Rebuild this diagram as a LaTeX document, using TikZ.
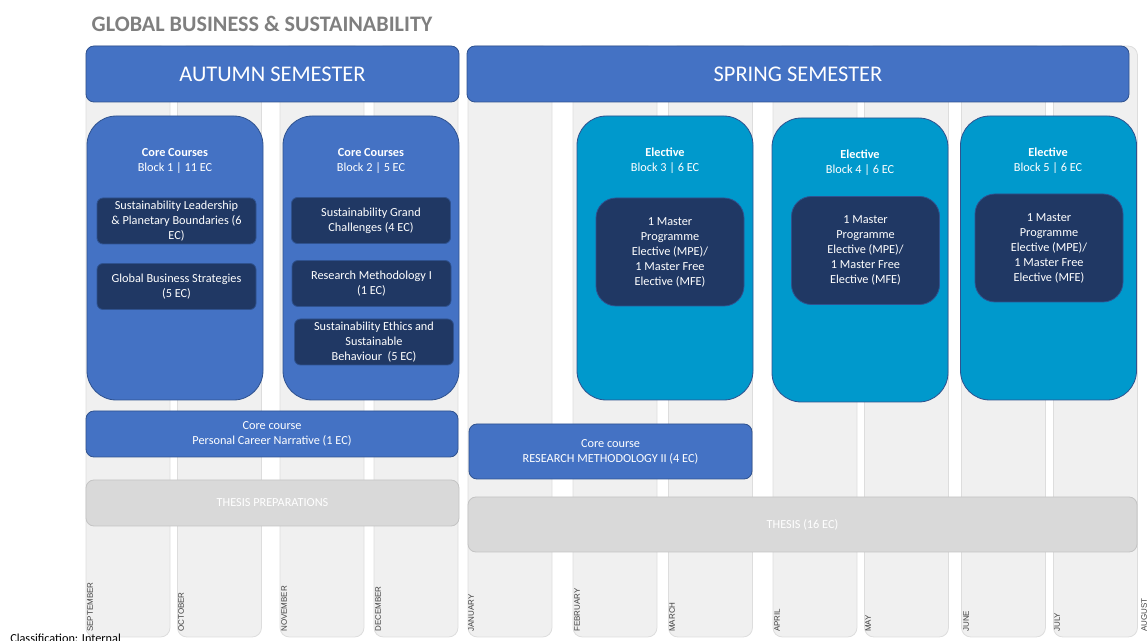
\documentclass[tikz,border=0pt]{standalone}
\usepackage{fontspec}
\setmainfont{Carlito}
\newfontfamily\monthfont{Liberation Sans}
\usetikzlibrary{positioning}
\definecolor{hdrblue}{HTML}{4472C4}
\definecolor{hdredge}{HTML}{2F528F}
\definecolor{elecblue}{HTML}{0099CC}
\definecolor{navyblue}{HTML}{203864}
\definecolor{thesisgray}{HTML}{D9D9D9}
\definecolor{thesisedge}{HTML}{C4C4C4}
\definecolor{colgray}{HTML}{F0F0F0}
\definecolor{coledge}{HTML}{DDDDDD}
\definecolor{titlegray}{HTML}{7F7F7F}

\begin{document}
\begin{tikzpicture}[x=0.75pt, y=-0.75pt,
    month/.style={draw=coledge, fill=colgray, line width=0.6pt, rounded corners=7pt,
        minimum width=63pt, minimum height=443.25pt, inner sep=0pt},
    monthlbl/.style={rotate=90, anchor=north west, inner sep=0pt, text=black!75,
        font=\monthfont\fontsize{6}{7}\selectfont},
    semester/.style={draw=hdredge, fill=hdrblue, line width=0.6pt, rounded corners=6pt,
        minimum height=42pt, text=white, font=\fontsize{16.8}{19}\selectfont},
    coreblock/.style={draw=hdredge, fill=hdrblue, line width=0.6pt, rounded corners=22pt,
        minimum width=132pt, minimum height=213pt},
    elecblock/.style={coreblock, fill=elecblue},
    blocktitle/.style={text=white, align=center, font=\fontsize{9.2}{11.25}\selectfont},
    course/.style={draw=hdredge, fill=navyblue, line width=0.6pt, rounded corners=4.5pt,
        minimum width=119.25pt, minimum height=34.5pt, inner sep=1pt, text=white,
        align=center, font=\fontsize{9.2}{11.25}\selectfont},
    elective/.style={course, rounded corners=15pt, minimum width=111pt, minimum height=81pt},
    bar/.style={draw=hdredge, fill=hdrblue, line width=0.6pt, rounded corners=6pt,
        text=white, align=center, font=\fontsize{9.2}{11.25}\selectfont},
    thesisbar/.style={bar, draw=thesisedge, fill=thesisgray}
]
\useasboundingbox (0,0) rectangle (1147,641);

\node[anchor=west, text=titlegray, font=\bfseries\fontsize{16.6}{19}\selectfont] (title) at (87,23.5) {GLOBAL BUSINESS \& SUSTAINABILITY};

\node[month] (sep) at (128,341.5) {};
\node[month] (oct) at (219.5,341.5) {};
\node[month] (nov) at (322,341.5) {};
\node[month] (dec) at (416,341.5) {};
\node[month] (jan) at (510,341.5) {};
\node[month] (feb) at (615,341.5) {};
\node[month] (mar) at (710.5,341.5) {};
\node[month] (apr) at (815,341.5) {};
\node[month] (may) at (906.5,341.5) {};
\node[month] (jun) at (1003.5,341.5) {};
\node[month] (jul) at (1095.5,341.5) {};
\node[monthlbl] (sepl) at (87,632) {SEPTEMBER};
\node[monthlbl] (octl) at (178,632) {OCTOBER};
\node[monthlbl] (novl) at (281,632) {NOVEMBER};
\node[monthlbl] (decl) at (375,632) {DECEMBER};
\node[monthlbl] (janl) at (468,632) {JANUARY};
\node[monthlbl] (febl) at (574,632) {FEBRUARY};
\node[monthlbl] (marl) at (669,632) {MARCH};
\node[monthlbl] (aprl) at (774,632) {APRIL};
\node[monthlbl] (mayl) at (865,632) {MAY};
\node[monthlbl] (junl) at (963,632) {JUNE};
\node[monthlbl] (jull) at (1054,632) {JULY};
\node[monthlbl] (augl) at (1141,632) {AUGUST};

\node[semester, minimum width=279.75pt] (autumn) at (272.5,74) {AUTUMN SEMESTER};
\node[semester, minimum width=496.5pt] (spring) at (798,74) {SPRING SEMESTER};

\node[coreblock] (block1) at (175,258) {};
\node[coreblock] (block2) at (371,258) {};
\node[elecblock] (block3) at (665,258) {};
\node[elecblock] (block4) at (860,260) {};
\node[elecblock] (block5) at (1048.5,258) {};

\node[blocktitle] (title1) at (175,160.5) {\textbf{Core Courses}\\Block 1 | 11 EC};
\node[blocktitle] (title2) at (371,160.5) {\textbf{Core Courses}\\Block 2 | 5 EC};
\node[blocktitle] (title3) at (665,160.5) {\textbf{Elective}\\Block 3 | 6 EC};
\node[blocktitle] (title4) at (860,162.5) {\textbf{Elective}\\Block 4 | 6 EC};
\node[blocktitle] (title5) at (1048,160.5) {\textbf{Elective}\\Block 5 | 6 EC};

\node[course] (slpb) at (176.5,221) {Sustainability Leadership\\\& Planetary Boundaries (6\\EC)};
\node[course] (gbs) at (176.5,286.5) {Global Business Strategies\\(5 EC)};
\node[course] (sgc) at (371,220.5) {Sustainability Grand\\Challenges (4 EC)};
\node[course] (rm1) at (371.5,283.5) {Research Methodology I\\(1 EC)};
\node[course] (ethics) at (374,342) {Sustainability Ethics and\\Sustainable\\Behaviour\ \ (5 EC)};

\node[elective] (mpe3) at (670,252) {1 Master\\Programme\\Elective (MPE)/\\1 Master Free\\Elective (MFE)};
\node[elective] (mpe4) at (865.5,250.5) {1 Master\\Programme\\Elective (MPE)/\\1 Master Free\\Elective (MFE)};
\node[elective] (mpe5) at (1049,248) {1 Master\\Programme\\Elective (MPE)/\\1 Master Free\\Elective (MFE)};

\node[bar, minimum width=279pt, minimum height=34.5pt] (pcn) at (272,434) {Core course\\Personal Career Narrative (1 EC)};
\node[bar, minimum width=212.25pt, minimum height=41.25pt] (rm2) at (610.5,451.5) {Core course\\RESEARCH METHODOLOGY II (4 EC)};
\node[thesisbar, minimum width=279.75pt, minimum height=34.5pt] (prep) at (272.5,503) {THESIS PREPARATIONS};
\node[thesisbar, minimum width=501.75pt, minimum height=41.25pt] (thesis) at (802.5,524.5) {THESIS (16 EC)};

\node[anchor=north west, inner sep=0pt, font=\fontsize{9.2}{10}\selectfont] (classif) at (10,633.5) {Classification: Internal};
\end{tikzpicture}
\end{document}
